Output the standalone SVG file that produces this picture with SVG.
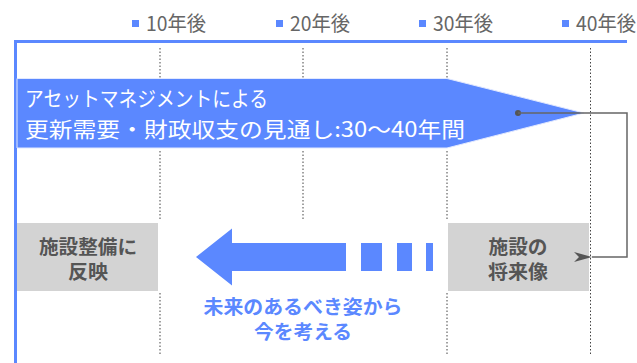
<svg xmlns="http://www.w3.org/2000/svg" width="637" height="363" viewBox="0 0 637 363">
<defs>
<style>
.t{font-family:"Noto Sans CJK JP","Noto Sans",sans-serif}
.tick{font-size:20px;fill:#666}
.sq{fill:#5B88FF}
.dot{stroke:#444;stroke-width:1;stroke-dasharray:1.5 2;fill:none}
.box{fill:#D3D3D3}
.bt{font-size:19px;font-weight:bold;fill:#555;text-anchor:middle}
.blue{font-size:19px;font-weight:bold;fill:#5B88FF;text-anchor:middle}
.at{font-size:21px;fill:#fff}
</style>
<marker id="ah" viewBox="0 0 20 12" refX="1" refY="6" markerWidth="20" markerHeight="12" markerUnits="userSpaceOnUse" orient="auto">
<path d="M1,6 L19,1 L14,6 L19,11 Z" fill="#555"/>
</marker>
</defs>
<rect width="637" height="363" fill="#fff"/>

<g id="timeline">
<rect class="sq" x="132" y="20" width="7" height="7"/>
<text class="t tick" x="146" y="31" textLength="60" lengthAdjust="spacingAndGlyphs">10年後</text>
<rect class="sq" x="276" y="20" width="7" height="7"/>
<text class="t tick" x="290" y="31" textLength="60" lengthAdjust="spacingAndGlyphs">20年後</text>
<rect class="sq" x="419" y="20" width="7" height="7"/>
<text class="t tick" x="433" y="31" textLength="60" lengthAdjust="spacingAndGlyphs">30年後</text>
<rect class="sq" x="562" y="20" width="7" height="7"/>
<text class="t tick" x="576" y="31" textLength="60" lengthAdjust="spacingAndGlyphs">40年後</text>
<rect x="14" y="40" width="613" height="3" fill="#5B88FF"/>
<rect x="14" y="40" width="3" height="323" fill="#5B88FF"/>
<path class="dot" d="M160,48V78 M303,48V78 M447,48V78 M590.5,48V355 M160,151V221 M303,151V219 M447,151V221 M160,293V355 M447,293V355"/>
</g>

<g id="am-arrow">
<polygon points="17,78.5 447,78.5 584,113 447,148 17,148" fill="#5B88FF" stroke="#e2e9ff" stroke-width="1"/>
<text class="t at" x="25" y="106" textLength="243" lengthAdjust="spacingAndGlyphs">アセットマネジメントによる</text>
<text class="t at" x="25" y="137" font-size="22" textLength="440" lengthAdjust="spacingAndGlyphs">更新需要・財政収支の見通し:30〜40年間</text>
</g>

<g id="box-now">
<rect class="box" x="17" y="223" width="141" height="68"/>
<text class="t bt" x="88" y="254" textLength="98" lengthAdjust="spacingAndGlyphs">施設整備に</text>
<text class="t bt" x="88" y="279" textLength="40" lengthAdjust="spacingAndGlyphs">反映</text>
</g>

<g id="box-future">
<rect class="box" x="448" y="223" width="141" height="68"/>
<text class="t bt" x="518" y="254" textLength="59" lengthAdjust="spacingAndGlyphs">施設の</text>
<text class="t bt" x="518" y="279" textLength="60" lengthAdjust="spacingAndGlyphs">将来像</text>
</g>

<g id="back-arrow">
<polygon points="196,257 232,228.5 232,243 346,243 346,271 232,271 232,285.5" fill="#5B88FF"/>
<rect x="361" y="243" width="21" height="28" fill="#5B88FF"/>
<rect x="397" y="243" width="15" height="28" fill="#5B88FF"/>
<rect x="426" y="243" width="7" height="28" fill="#5B88FF"/>
</g>

<g id="caption">
<text class="t blue" x="303" y="314" textLength="199" lengthAdjust="spacingAndGlyphs">未来のあるべき姿から</text>
<text class="t blue" x="303" y="339" textLength="98" lengthAdjust="spacingAndGlyphs">今を考える</text>
</g>

<g id="connectors">
<circle cx="518" cy="113" r="3" fill="#555"/>
<path d="M518,113 H627 V257 H592" fill="none" stroke="#666" stroke-width="1.5" marker-end="url(#ah)"/>
</g>
</svg>
